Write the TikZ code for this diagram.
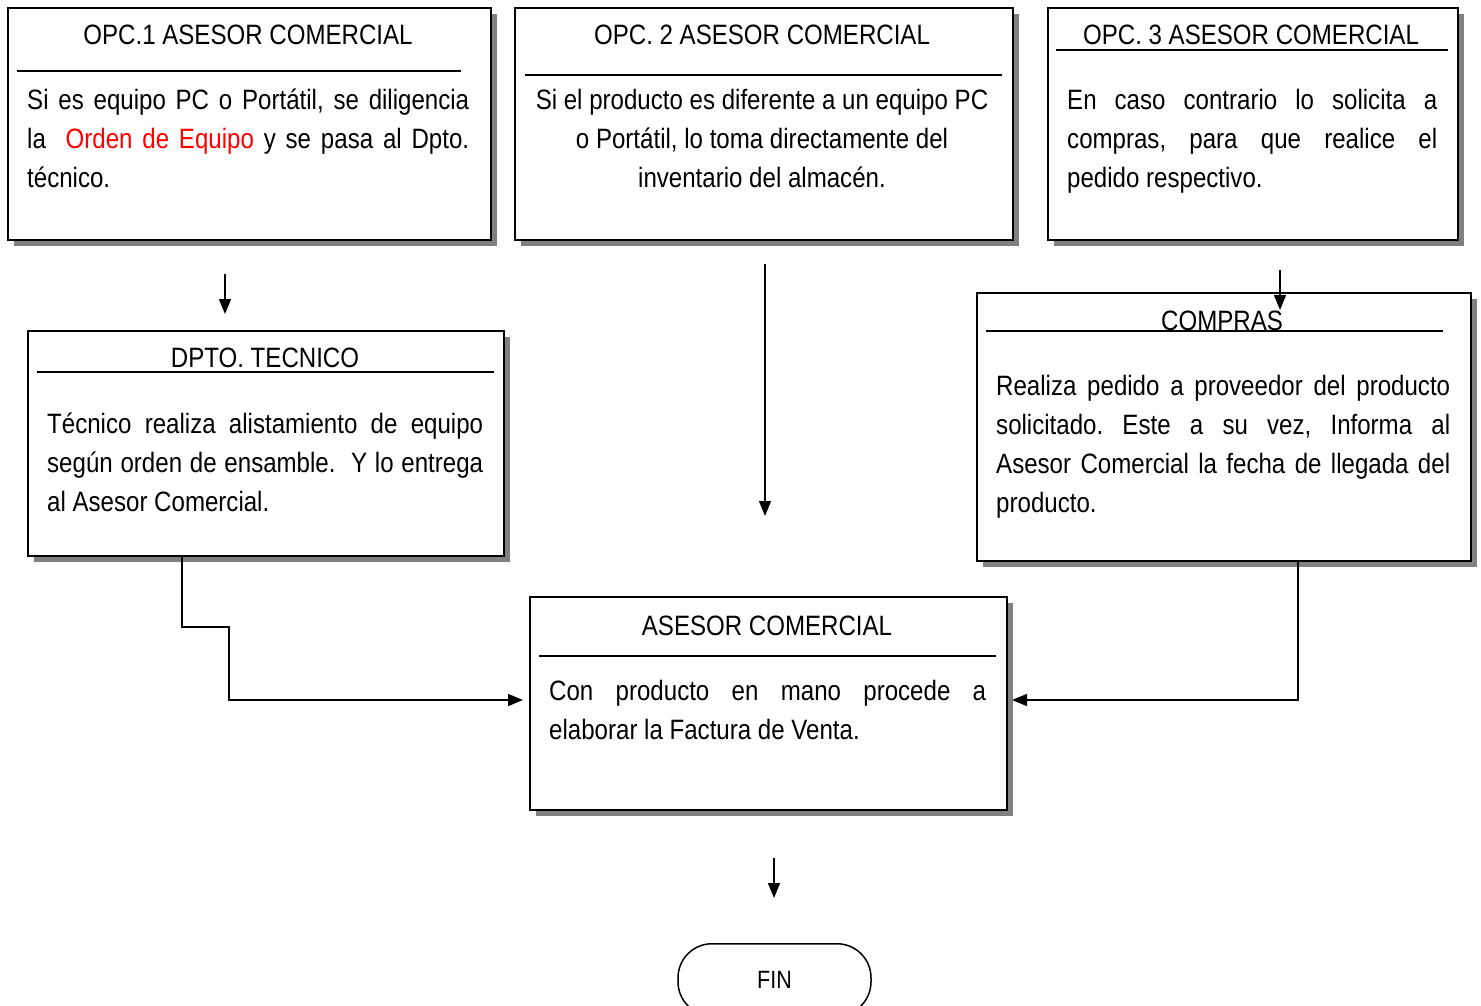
\documentclass[tikz,border=0pt]{standalone}
\usepackage{fontspec}
\setmainfont{Liberation Sans}[FakeStretch=0.86]
\usetikzlibrary{arrows.meta,shadows}
\hyphenpenalty=10000
\exhyphenpenalty=10000
\frenchspacing
\begin{document}
\begin{tikzpicture}[x=1pt,y=1pt,
  box/.style={draw, line width=2pt, fill=white, inner sep=0pt, anchor=north west,
    drop shadow={shadow xshift=6pt, shadow yshift=-6pt, fill=black!50, opacity=1}},
  hline/.style={line width=1.5pt},
  ttl/.style={anchor=base, inner sep=0pt, font=\fontsize{28}{39}\selectfont},
  body/.style={anchor=base west, inner sep=0pt, align=justify, font=\fontsize{28}{39}\selectfont},
  cbody/.style={anchor=base, inner sep=0pt, align=flush center, font=\fontsize{28}{39}\selectfont},
  arr/.style={line width=1.5pt, -{Triangle[length=15pt,width=12pt]}}
]
\useasboundingbox (0,0) rectangle (1481,-1006);
\clip (0,0) rectangle (1481,-1006);

% boxes
\node[box, minimum width=483pt, minimum height=232pt] (b1) at (7,-7) {};
\node[box, minimum width=498pt, minimum height=232pt] (b2) at (514,-7) {};
\node[box, minimum width=410pt, minimum height=232pt] (b3) at (1047,-7) {};
\node[box, minimum width=476pt, minimum height=225pt] (b4) at (27,-330) {};
\node[box, minimum width=494pt, minimum height=268pt] (b5) at (976,-292) {};
\node[box, minimum width=477pt, minimum height=213pt] (b6) at (529,-596) {};
\node[draw, line width=1.5pt, rounded corners=34pt, minimum width=193pt, minimum height=72pt,
  anchor=north, inner sep=0pt, font=\fontsize{25}{30}\selectfont] (fin) at (774.5,-943) {FIN};

% titles
\node[ttl] (h1) at (248,-45) {OPC.1 ASESOR COMERCIAL};
\node[ttl] (h2) at (762,-45) {OPC. 2 ASESOR COMERCIAL};
\node[ttl] (h3) at (1251,-45) {OPC. 3 ASESOR COMERCIAL};
\node[ttl] (h4) at (265,-367) {DPTO. TECNICO};
\node[ttl] (h5) at (1222,-330) {COMPRAS};
\node[ttl] (h6) at (767,-635) {ASESOR COMERCIAL};

% header rules
\draw[hline] (17,-71) -- (461,-71);
\draw[hline] (525,-75) -- (1002,-75);
\draw[hline] (1056,-50) -- (1448,-50);
\draw[hline] (37,-372) -- (494,-372);
\draw[hline] (986,-331) -- (1443,-331);
\draw[hline] (539,-656) -- (996,-656);

% bodies
\node[body, text width=442pt] (t1) at (27,-110)
  {Si es equipo PC o Portátil, se diligencia\linebreak la~ \textcolor{red}{Orden de Equipo} y se pasa al Dpto.\linebreak técnico.};
\node[cbody, text width=480pt] (t2) at (762,-110)
  {Si el producto es diferente a un equipo PC\\ o Portátil, lo toma directamente del\\ inventario del almacén.};
\node[body, text width=370pt] (t3) at (1067,-110)
  {En caso contrario lo solicita a\linebreak compras, para que realice el\linebreak pedido respectivo.};
\node[body, text width=436pt] (t4) at (47,-433)
  {Técnico realiza alistamiento de equipo\linebreak según orden de ensamble.~ Y lo entrega\linebreak al Asesor Comercial.};
\node[body, text width=454pt] (t5) at (996,-395)
  {Realiza pedido a proveedor del producto\linebreak solicitado. Este a su vez, Informa al\linebreak Asesor Comercial la fecha de llegada del\linebreak producto.};
\node[body, text width=437pt] (t6) at (549,-700)
  {Con producto en mano procede a\linebreak elaborar la Factura de Venta.};

% connector end points
\coordinate (a1s) at (225,-274);
\coordinate (a1e) at (225,-314);
\coordinate (a2s) at (765,-264);
\coordinate (a2e) at (765,-516);
\coordinate (a3s) at (1280,-270);
\coordinate (a3e) at (1280,-310);
\coordinate (a6s) at (774,-858);
\coordinate (a6e) at (774,-898);
\coordinate (e1) at (182,-627);
\coordinate (e2) at (229,-700);
\coordinate (e3) at (1298,-700);

\draw[arr] (a1s) -- (a1e);
\draw[arr] (a2s) -- (a2e);
\draw[arr] (a3s) -- (a3e);
\draw[arr] (a6s) -- (a6e);
\draw[arr, shorten >=6pt] (b4.south -| e1) -- (e1) -| (e2) -- (b6.west |- e2);
\draw[arr, shorten >=4pt] (b5.south -| e3) -- (e3) -- (b6.east |- e3);
\end{tikzpicture}
\end{document}
